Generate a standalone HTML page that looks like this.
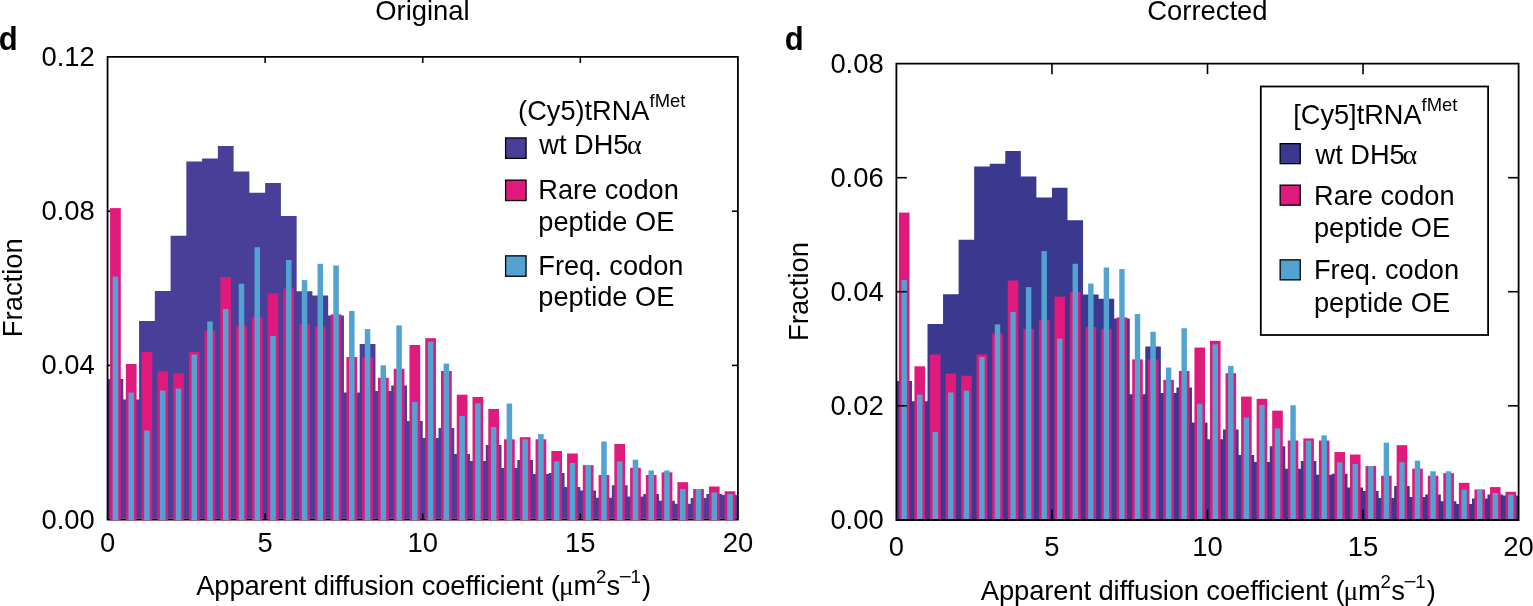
<!DOCTYPE html>
<html><head><meta charset="utf-8"><title>Diffusion coefficient histograms</title>
<style>
html,body{margin:0;padding:0;background:#fff;}
body{width:1533px;height:606px;overflow:hidden;}
svg{display:block;}
svg text{font-family:'Liberation Sans',Arial,Helvetica,sans-serif;fill:#000;}
</style></head><body>
<svg width="1533" height="606" viewBox="0 0 1533 606">
<path d="M107.55 518.8 L107.55 379 L123.31 379 L123.31 399.5 L139.07 399.5 L139.07 321 L154.83 321 L154.83 291 L170.59 291 L170.59 235.7 L186.34 235.7 L186.34 161.4 L202.1 161.4 L202.1 158.6 L217.86 158.6 L217.86 146.1 L233.62 146.1 L233.62 171.4 L249.38 171.4 L249.38 192.8 L265.14 192.8 L265.14 182.9 L280.9 182.9 L280.9 215.9 L296.66 215.9 L296.66 291.3 L312.41 291.3 L312.41 295.5 L328.17 295.5 L328.17 315.6 L343.93 315.6 L343.93 392.4 L359.69 392.4 L359.69 344 L375.45 344 L375.45 391 L391.21 391 L391.21 385.5 L406.97 385.5 L406.97 421 L422.73 421 L422.73 438 L438.48 438 L438.48 428 L454.24 428 L454.24 454 L470 454 L470 461 L485.76 461 L485.76 445 L501.52 445 L501.52 468 L517.28 468 L517.28 460 L533.04 460 L533.04 474 L548.79 474 L548.79 473 L564.55 473 L564.55 487 L580.31 487 L580.31 490.6 L596.07 490.6 L596.07 497.7 L611.83 497.7 L611.83 485.3 L627.59 485.3 L627.59 496.5 L643.35 496.5 L643.35 494 L659.11 494 L659.11 500.8 L674.87 500.8 L674.87 503.7 L690.62 503.7 L690.62 498 L706.38 498 L706.38 494 L722.14 494 L722.14 495 L737.9 495 L737.9 518.8 Z" fill="#493f99"/>
<path d="M107.55 56.95 L737.9 56.95 L737.9 519.6 L107.55 519.6 Z" fill="none" stroke="#000" stroke-width="1.8"/>
<line x1="265.14" y1="519.6" x2="265.14" y2="513.6" stroke="#000" stroke-width="1.6"/>
<line x1="265.14" y1="56.95" x2="265.14" y2="62.95" stroke="#000" stroke-width="1.6"/>
<line x1="422.73" y1="519.6" x2="422.73" y2="513.6" stroke="#000" stroke-width="1.6"/>
<line x1="422.73" y1="56.95" x2="422.73" y2="62.95" stroke="#000" stroke-width="1.6"/>
<line x1="580.31" y1="519.6" x2="580.31" y2="513.6" stroke="#000" stroke-width="1.6"/>
<line x1="580.31" y1="56.95" x2="580.31" y2="62.95" stroke="#000" stroke-width="1.6"/>
<line x1="107.55" y1="211.2" x2="113.55" y2="211.2" stroke="#000" stroke-width="1.6"/>
<line x1="737.9" y1="211.2" x2="731.9" y2="211.2" stroke="#000" stroke-width="1.6"/>
<line x1="107.55" y1="365.4" x2="113.55" y2="365.4" stroke="#000" stroke-width="1.6"/>
<line x1="737.9" y1="365.4" x2="731.9" y2="365.4" stroke="#000" stroke-width="1.6"/>
<rect x="110.07" y="208.1" width="10.72" height="312.3" fill="#e0197c"/>
<rect x="125.83" y="364" width="10.72" height="156.4" fill="#e0197c"/>
<rect x="141.59" y="352" width="10.72" height="168.4" fill="#e0197c"/>
<rect x="157.35" y="371.4" width="10.72" height="149" fill="#e0197c"/>
<rect x="173.11" y="373.5" width="10.72" height="146.9" fill="#e0197c"/>
<rect x="188.87" y="352" width="10.72" height="168.4" fill="#e0197c"/>
<rect x="204.62" y="330.8" width="10.72" height="189.6" fill="#e0197c"/>
<rect x="220.38" y="277" width="10.72" height="243.4" fill="#e0197c"/>
<rect x="236.14" y="326" width="10.72" height="194.4" fill="#e0197c"/>
<rect x="251.9" y="317" width="10.72" height="203.4" fill="#e0197c"/>
<rect x="267.66" y="293.4" width="10.72" height="227" fill="#e0197c"/>
<rect x="283.42" y="288.7" width="10.72" height="231.7" fill="#e0197c"/>
<rect x="299.18" y="324" width="10.72" height="196.4" fill="#e0197c"/>
<rect x="314.94" y="326.4" width="10.72" height="194" fill="#e0197c"/>
<rect x="330.69" y="314.4" width="10.72" height="206" fill="#e0197c"/>
<rect x="346.45" y="357" width="10.72" height="163.4" fill="#e0197c"/>
<rect x="362.21" y="357" width="10.72" height="163.4" fill="#e0197c"/>
<rect x="377.97" y="377.8" width="10.72" height="142.6" fill="#e0197c"/>
<rect x="393.73" y="368.7" width="10.72" height="151.7" fill="#e0197c"/>
<rect x="409.49" y="345" width="10.72" height="175.4" fill="#e0197c"/>
<rect x="425.25" y="338.2" width="10.72" height="182.2" fill="#e0197c"/>
<rect x="441.01" y="371" width="10.72" height="149.4" fill="#e0197c"/>
<rect x="456.76" y="394.7" width="10.72" height="125.7" fill="#e0197c"/>
<rect x="472.52" y="397" width="10.72" height="123.4" fill="#e0197c"/>
<rect x="488.28" y="409" width="10.72" height="111.4" fill="#e0197c"/>
<rect x="504.04" y="439.3" width="10.72" height="81.1" fill="#e0197c"/>
<rect x="519.8" y="437.2" width="10.72" height="83.2" fill="#e0197c"/>
<rect x="535.56" y="439.3" width="10.72" height="81.1" fill="#e0197c"/>
<rect x="551.32" y="451" width="10.72" height="69.4" fill="#e0197c"/>
<rect x="567.08" y="453.5" width="10.72" height="66.9" fill="#e0197c"/>
<rect x="582.83" y="465.2" width="10.72" height="55.2" fill="#e0197c"/>
<rect x="598.59" y="475" width="10.72" height="45.4" fill="#e0197c"/>
<rect x="614.35" y="444" width="10.72" height="76.4" fill="#e0197c"/>
<rect x="630.11" y="467.8" width="10.72" height="52.6" fill="#e0197c"/>
<rect x="645.87" y="475" width="10.72" height="45.4" fill="#e0197c"/>
<rect x="661.63" y="472.4" width="10.72" height="48" fill="#e0197c"/>
<rect x="677.39" y="482.2" width="10.72" height="38.2" fill="#e0197c"/>
<rect x="693.15" y="489" width="10.72" height="31.4" fill="#e0197c"/>
<rect x="708.9" y="486.5" width="10.72" height="33.9" fill="#e0197c"/>
<rect x="724.66" y="491.3" width="10.72" height="29.1" fill="#e0197c"/>
<rect x="112.67" y="276.5" width="5.52" height="243.9" fill="#52a3d1"/>
<rect x="128.43" y="392.7" width="5.52" height="127.7" fill="#52a3d1"/>
<rect x="144.19" y="430.6" width="5.52" height="89.8" fill="#52a3d1"/>
<rect x="159.95" y="390.6" width="5.52" height="129.8" fill="#52a3d1"/>
<rect x="175.71" y="388.7" width="5.52" height="131.7" fill="#52a3d1"/>
<rect x="191.47" y="354.5" width="5.52" height="165.9" fill="#52a3d1"/>
<rect x="207.22" y="321.5" width="5.52" height="198.9" fill="#52a3d1"/>
<rect x="222.98" y="309" width="5.52" height="211.4" fill="#52a3d1"/>
<rect x="238.74" y="283.7" width="5.52" height="236.7" fill="#52a3d1"/>
<rect x="254.5" y="247.2" width="5.52" height="273.2" fill="#52a3d1"/>
<rect x="270.26" y="336" width="5.52" height="184.4" fill="#52a3d1"/>
<rect x="286.02" y="260" width="5.52" height="260.4" fill="#52a3d1"/>
<rect x="301.78" y="280.1" width="5.52" height="240.3" fill="#52a3d1"/>
<rect x="317.54" y="263.8" width="5.52" height="256.6" fill="#52a3d1"/>
<rect x="333.29" y="265.4" width="5.52" height="255" fill="#52a3d1"/>
<rect x="349.05" y="311" width="5.52" height="209.4" fill="#52a3d1"/>
<rect x="364.81" y="329" width="5.52" height="191.4" fill="#52a3d1"/>
<rect x="380.57" y="365.3" width="5.52" height="155.1" fill="#52a3d1"/>
<rect x="396.33" y="325.4" width="5.52" height="195" fill="#52a3d1"/>
<rect x="412.09" y="402" width="5.52" height="118.4" fill="#52a3d1"/>
<rect x="427.85" y="341.7" width="5.52" height="178.7" fill="#52a3d1"/>
<rect x="443.61" y="363.6" width="5.52" height="156.8" fill="#52a3d1"/>
<rect x="459.36" y="416" width="5.52" height="104.4" fill="#52a3d1"/>
<rect x="475.12" y="403.3" width="5.52" height="117.1" fill="#52a3d1"/>
<rect x="490.88" y="427" width="5.52" height="93.4" fill="#52a3d1"/>
<rect x="506.64" y="403.5" width="5.52" height="116.9" fill="#52a3d1"/>
<rect x="522.4" y="439.3" width="5.52" height="81.1" fill="#52a3d1"/>
<rect x="538.16" y="434.1" width="5.52" height="86.3" fill="#52a3d1"/>
<rect x="553.92" y="461.4" width="5.52" height="59" fill="#52a3d1"/>
<rect x="569.68" y="463" width="5.52" height="57.4" fill="#52a3d1"/>
<rect x="585.43" y="465.2" width="5.52" height="55.2" fill="#52a3d1"/>
<rect x="601.19" y="441.5" width="5.52" height="78.9" fill="#52a3d1"/>
<rect x="616.95" y="461.4" width="5.52" height="59" fill="#52a3d1"/>
<rect x="632.71" y="459.7" width="5.52" height="60.7" fill="#52a3d1"/>
<rect x="648.47" y="470.5" width="5.52" height="49.9" fill="#52a3d1"/>
<rect x="664.23" y="470.5" width="5.52" height="49.9" fill="#52a3d1"/>
<rect x="679.99" y="489" width="5.52" height="31.4" fill="#52a3d1"/>
<rect x="695.75" y="489" width="5.52" height="31.4" fill="#52a3d1"/>
<rect x="711.5" y="492.5" width="5.52" height="27.9" fill="#52a3d1"/>
<rect x="727.26" y="494.1" width="5.52" height="26.3" fill="#52a3d1"/>
<path d="M896.4 519.2 L896.4 381.07 L911.95 381.07 L911.95 401.29 L927.51 401.29 L927.51 323.89 L943.06 323.89 L943.06 294.31 L958.62 294.31 L958.62 239.79 L974.17 239.79 L974.17 166.53 L989.73 166.53 L989.73 163.77 L1005.28 163.77 L1005.28 150.94 L1020.84 150.94 L1020.84 176.39 L1036.39 176.39 L1036.39 197.49 L1051.95 197.49 L1051.95 187.73 L1067.5 187.73 L1067.5 220.26 L1083.06 220.26 L1083.06 294.61 L1098.62 294.61 L1098.62 298.75 L1114.17 298.75 L1114.17 318.56 L1129.72 318.56 L1129.72 394.29 L1145.28 394.29 L1145.28 346.57 L1160.84 346.57 L1160.84 392.91 L1176.39 392.91 L1176.39 387.48 L1191.94 387.48 L1191.94 422.48 L1207.5 422.48 L1207.5 439.25 L1223.05 439.25 L1223.05 429.39 L1238.61 429.39 L1238.61 455.02 L1254.16 455.02 L1254.16 461.92 L1269.72 461.92 L1269.72 446.15 L1285.27 446.15 L1285.27 468.82 L1300.83 468.82 L1300.83 460.94 L1316.38 460.94 L1316.38 474.74 L1331.94 474.74 L1331.94 473.75 L1347.49 473.75 L1347.49 487.56 L1363.05 487.56 L1363.05 491.11 L1378.61 491.11 L1378.61 498.11 L1394.16 498.11 L1394.16 485.88 L1409.71 485.88 L1409.71 496.92 L1425.27 496.92 L1425.27 494.46 L1440.82 494.46 L1440.82 501.16 L1456.38 501.16 L1456.38 504.02 L1471.93 504.02 L1471.93 498.4 L1487.49 498.4 L1487.49 494.46 L1503.04 494.46 L1503.04 495.45 L1518.6 495.45 L1518.6 519.2 Z" fill="#3b388f"/>
<rect x="898.89" y="212.57" width="10.58" height="308.23" fill="#e0197c"/>
<rect x="914.44" y="366.28" width="10.58" height="154.52" fill="#e0197c"/>
<rect x="930" y="354.45" width="10.58" height="166.35" fill="#e0197c"/>
<rect x="945.55" y="373.58" width="10.58" height="147.22" fill="#e0197c"/>
<rect x="961.11" y="375.65" width="10.58" height="145.15" fill="#e0197c"/>
<rect x="976.66" y="354.45" width="10.58" height="166.35" fill="#e0197c"/>
<rect x="992.22" y="333.55" width="10.58" height="187.25" fill="#e0197c"/>
<rect x="1007.77" y="280.51" width="10.58" height="240.29" fill="#e0197c"/>
<rect x="1023.33" y="328.82" width="10.58" height="191.98" fill="#e0197c"/>
<rect x="1038.88" y="319.94" width="10.58" height="200.86" fill="#e0197c"/>
<rect x="1054.44" y="296.68" width="10.58" height="224.12" fill="#e0197c"/>
<rect x="1069.99" y="292.04" width="10.58" height="228.76" fill="#e0197c"/>
<rect x="1085.55" y="326.85" width="10.58" height="193.95" fill="#e0197c"/>
<rect x="1101.1" y="329.21" width="10.58" height="191.59" fill="#e0197c"/>
<rect x="1116.66" y="317.38" width="10.58" height="203.42" fill="#e0197c"/>
<rect x="1132.21" y="359.38" width="10.58" height="161.42" fill="#e0197c"/>
<rect x="1147.77" y="359.38" width="10.58" height="161.42" fill="#e0197c"/>
<rect x="1163.32" y="379.89" width="10.58" height="140.91" fill="#e0197c"/>
<rect x="1178.88" y="370.92" width="10.58" height="149.88" fill="#e0197c"/>
<rect x="1194.43" y="347.55" width="10.58" height="173.25" fill="#e0197c"/>
<rect x="1209.99" y="340.85" width="10.58" height="179.95" fill="#e0197c"/>
<rect x="1225.54" y="373.19" width="10.58" height="147.61" fill="#e0197c"/>
<rect x="1241.1" y="396.55" width="10.58" height="124.25" fill="#e0197c"/>
<rect x="1256.65" y="398.82" width="10.58" height="121.98" fill="#e0197c"/>
<rect x="1272.21" y="410.65" width="10.58" height="110.15" fill="#e0197c"/>
<rect x="1287.76" y="440.53" width="10.58" height="80.27" fill="#e0197c"/>
<rect x="1303.32" y="438.46" width="10.58" height="82.34" fill="#e0197c"/>
<rect x="1318.87" y="440.53" width="10.58" height="80.27" fill="#e0197c"/>
<rect x="1334.43" y="452.06" width="10.58" height="68.74" fill="#e0197c"/>
<rect x="1349.98" y="454.53" width="10.58" height="66.27" fill="#e0197c"/>
<rect x="1365.54" y="466.06" width="10.58" height="54.74" fill="#e0197c"/>
<rect x="1381.09" y="475.73" width="10.58" height="45.07" fill="#e0197c"/>
<rect x="1396.65" y="445.16" width="10.58" height="75.64" fill="#e0197c"/>
<rect x="1412.2" y="468.63" width="10.58" height="52.17" fill="#e0197c"/>
<rect x="1427.76" y="475.73" width="10.58" height="45.07" fill="#e0197c"/>
<rect x="1443.31" y="473.16" width="10.58" height="47.64" fill="#e0197c"/>
<rect x="1458.87" y="482.83" width="10.58" height="37.97" fill="#e0197c"/>
<rect x="1474.42" y="489.53" width="10.58" height="31.27" fill="#e0197c"/>
<rect x="1489.98" y="487.06" width="10.58" height="33.74" fill="#e0197c"/>
<rect x="1505.53" y="491.8" width="10.58" height="29" fill="#e0197c"/>
<rect x="901.46" y="280.01" width="5.44" height="240.79" fill="#52a3d1"/>
<rect x="917.01" y="394.58" width="5.44" height="126.22" fill="#52a3d1"/>
<rect x="932.57" y="431.95" width="5.44" height="88.85" fill="#52a3d1"/>
<rect x="948.12" y="392.51" width="5.44" height="128.29" fill="#52a3d1"/>
<rect x="963.68" y="390.64" width="5.44" height="130.16" fill="#52a3d1"/>
<rect x="979.23" y="356.92" width="5.44" height="163.88" fill="#52a3d1"/>
<rect x="994.79" y="324.38" width="5.44" height="196.42" fill="#52a3d1"/>
<rect x="1010.34" y="312.06" width="5.44" height="208.74" fill="#52a3d1"/>
<rect x="1025.9" y="287.11" width="5.44" height="233.69" fill="#52a3d1"/>
<rect x="1041.45" y="251.12" width="5.44" height="269.68" fill="#52a3d1"/>
<rect x="1057.01" y="338.68" width="5.44" height="182.12" fill="#52a3d1"/>
<rect x="1072.56" y="263.74" width="5.44" height="257.06" fill="#52a3d1"/>
<rect x="1088.12" y="283.56" width="5.44" height="237.24" fill="#52a3d1"/>
<rect x="1103.67" y="267.49" width="5.44" height="253.31" fill="#52a3d1"/>
<rect x="1119.23" y="269.07" width="5.44" height="251.73" fill="#52a3d1"/>
<rect x="1134.78" y="314.03" width="5.44" height="206.77" fill="#52a3d1"/>
<rect x="1150.34" y="331.78" width="5.44" height="189.02" fill="#52a3d1"/>
<rect x="1165.89" y="367.57" width="5.44" height="153.23" fill="#52a3d1"/>
<rect x="1181.45" y="328.23" width="5.44" height="192.57" fill="#52a3d1"/>
<rect x="1197" y="403.75" width="5.44" height="117.05" fill="#52a3d1"/>
<rect x="1212.56" y="344.3" width="5.44" height="176.5" fill="#52a3d1"/>
<rect x="1228.11" y="365.89" width="5.44" height="154.91" fill="#52a3d1"/>
<rect x="1243.67" y="417.55" width="5.44" height="103.25" fill="#52a3d1"/>
<rect x="1259.22" y="405.03" width="5.44" height="115.77" fill="#52a3d1"/>
<rect x="1274.78" y="428.4" width="5.44" height="92.4" fill="#52a3d1"/>
<rect x="1290.33" y="405.23" width="5.44" height="115.57" fill="#52a3d1"/>
<rect x="1305.89" y="440.53" width="5.44" height="80.27" fill="#52a3d1"/>
<rect x="1321.44" y="435.4" width="5.44" height="85.4" fill="#52a3d1"/>
<rect x="1337" y="462.32" width="5.44" height="58.48" fill="#52a3d1"/>
<rect x="1352.55" y="463.89" width="5.44" height="56.91" fill="#52a3d1"/>
<rect x="1368.11" y="466.06" width="5.44" height="54.74" fill="#52a3d1"/>
<rect x="1383.66" y="442.7" width="5.44" height="78.1" fill="#52a3d1"/>
<rect x="1399.22" y="462.32" width="5.44" height="58.48" fill="#52a3d1"/>
<rect x="1414.77" y="460.64" width="5.44" height="60.16" fill="#52a3d1"/>
<rect x="1430.33" y="471.29" width="5.44" height="49.51" fill="#52a3d1"/>
<rect x="1445.88" y="471.29" width="5.44" height="49.51" fill="#52a3d1"/>
<rect x="1461.44" y="489.53" width="5.44" height="31.27" fill="#52a3d1"/>
<rect x="1476.99" y="489.53" width="5.44" height="31.27" fill="#52a3d1"/>
<rect x="1492.55" y="492.98" width="5.44" height="27.82" fill="#52a3d1"/>
<rect x="1508.1" y="494.56" width="5.44" height="26.24" fill="#52a3d1"/>
<path d="M896.4 63.65 L1518.6 63.65 L1518.6 520 L896.4 520 Z" fill="none" stroke="#000" stroke-width="1.8"/>
<line x1="1051.95" y1="520" x2="1051.95" y2="509.5" stroke="#000" stroke-width="1.6"/>
<line x1="1051.95" y1="63.65" x2="1051.95" y2="74.15" stroke="#000" stroke-width="1.6"/>
<line x1="1207.5" y1="520" x2="1207.5" y2="509.5" stroke="#000" stroke-width="1.6"/>
<line x1="1207.5" y1="63.65" x2="1207.5" y2="74.15" stroke="#000" stroke-width="1.6"/>
<line x1="1363.05" y1="520" x2="1363.05" y2="509.5" stroke="#000" stroke-width="1.6"/>
<line x1="1363.05" y1="63.65" x2="1363.05" y2="74.15" stroke="#000" stroke-width="1.6"/>
<line x1="896.4" y1="177.7" x2="906.9" y2="177.7" stroke="#000" stroke-width="1.6"/>
<line x1="1518.6" y1="177.7" x2="1508.1" y2="177.7" stroke="#000" stroke-width="1.6"/>
<line x1="896.4" y1="291.7" x2="906.9" y2="291.7" stroke="#000" stroke-width="1.6"/>
<line x1="1518.6" y1="291.7" x2="1508.1" y2="291.7" stroke="#000" stroke-width="1.6"/>
<line x1="896.4" y1="405.8" x2="906.9" y2="405.8" stroke="#000" stroke-width="1.6"/>
<line x1="1518.6" y1="405.8" x2="1508.1" y2="405.8" stroke="#000" stroke-width="1.6"/>
<text transform="translate(-1.3 49.7) scale(0.94 1)" style="font-size:33px;font-weight:bold">d</text>
<text x="422.4" y="20.2" text-anchor="middle" style="font-size:27.4px">Original</text>
<text x="94.8" y="65.85" text-anchor="end" style="font-size:27.4px">0.12</text>
<text x="94.8" y="220.1" text-anchor="end" style="font-size:27.4px">0.08</text>
<text x="94.8" y="374.3" text-anchor="end" style="font-size:27.4px">0.04</text>
<text x="94.8" y="528.5" text-anchor="end" style="font-size:27.4px">0.00</text>
<text x="107.55" y="552" text-anchor="middle" style="font-size:27.4px">0</text>
<text x="265.14" y="552" text-anchor="middle" style="font-size:27.4px">5</text>
<text x="422.73" y="552" text-anchor="middle" style="font-size:27.4px">10</text>
<text x="580.31" y="552" text-anchor="middle" style="font-size:27.4px">15</text>
<text x="737.9" y="552" text-anchor="middle" style="font-size:27.4px">20</text>
<text transform="translate(22.3 287.7) rotate(-90)" text-anchor="middle" style="font-size:27.4px">Fraction</text>
<text x="196.15" y="594.8" textLength="347.1" lengthAdjust="spacing" style="font-size:27.4px">Apparent diffusion coefficient</text>
<text x="550.8" y="594.8" style="font-size:27.4px">(</text>
<text x="558.9" y="594.8" style="font-size:27.4px;font-family:'Liberation Serif',serif">μ</text>
<text x="573.4" y="594.8" style="font-size:27.4px">m</text>
<text x="595.9" y="582.7" style="font-size:18.6px">2</text>
<text x="606.5" y="594.8" style="font-size:27.4px">s</text>
<text x="0" y="582.7" transform="translate(619.8 0) scale(1.2 1) translate(-0.92 0)" style="font-size:18.6px">−</text>
<text x="630.6" y="582.7" style="font-size:18.6px">1</text>
<text x="642" y="594.8" style="font-size:27.4px">)</text>
<text x="518.1" y="119.5" style="font-size:27.2px">(Cy5)tRNA<tspan dy="-12.9" style="font-size:18.4px">fMet</tspan></text>
<rect x="505.6" y="137.95" width="20.45" height="20.4" fill="#493f99" stroke="#000" stroke-width="1.3"/>
<rect x="505.6" y="180.15" width="20.45" height="20.4" fill="#e0197c" stroke="#000" stroke-width="1.3"/>
<rect x="505.6" y="255.85" width="20.45" height="20.4" fill="#52a3d1" stroke="#000" stroke-width="1.3"/>
<text x="539.3" y="153.7" style="font-size:27.2px">wt DH5</text>
<text x="627.1" y="153.7" style="font-size:28px;font-family:'Liberation Serif',serif">α</text>
<text x="538.3" y="198.9" style="font-size:27.2px">Rare codon</text>
<text x="538.3" y="230.6" style="font-size:27.2px">peptide OE</text>
<text x="538.3" y="274.8" style="font-size:27.2px">Freq. codon</text>
<text x="538.3" y="306.3" style="font-size:27.2px">peptide OE</text>
<text transform="translate(784.8 49.7) scale(0.94 1)" style="font-size:33px;font-weight:bold">d</text>
<text x="1207.4" y="20.2" text-anchor="middle" style="font-size:27.4px">Corrected</text>
<text x="883.7" y="72.55" text-anchor="end" style="font-size:27.4px">0.08</text>
<text x="883.7" y="186.6" text-anchor="end" style="font-size:27.4px">0.06</text>
<text x="883.7" y="300.6" text-anchor="end" style="font-size:27.4px">0.04</text>
<text x="883.7" y="414.7" text-anchor="end" style="font-size:27.4px">0.02</text>
<text x="883.7" y="528.9" text-anchor="end" style="font-size:27.4px">0.00</text>
<text x="896.4" y="556" text-anchor="middle" style="font-size:27.4px">0</text>
<text x="1051.95" y="556" text-anchor="middle" style="font-size:27.4px">5</text>
<text x="1207.5" y="556" text-anchor="middle" style="font-size:27.4px">10</text>
<text x="1363.05" y="556" text-anchor="middle" style="font-size:27.4px">15</text>
<text x="1518.6" y="556" text-anchor="middle" style="font-size:27.4px">20</text>
<text transform="translate(808.3 291.5) rotate(-90)" text-anchor="middle" style="font-size:27.4px">Fraction</text>
<text x="980.85" y="599.8" textLength="347.1" lengthAdjust="spacing" style="font-size:27.4px">Apparent diffusion coefficient</text>
<text x="1335.5" y="599.8" style="font-size:27.4px">(</text>
<text x="1343.6" y="599.8" style="font-size:27.4px;font-family:'Liberation Serif',serif">μ</text>
<text x="1358.1" y="599.8" style="font-size:27.4px">m</text>
<text x="1380.6" y="587.7" style="font-size:18.6px">2</text>
<text x="1391.2" y="599.8" style="font-size:27.4px">s</text>
<text x="0" y="587.7" transform="translate(1404.5 0) scale(1.2 1) translate(-0.92 0)" style="font-size:18.6px">−</text>
<text x="1415.3" y="587.7" style="font-size:18.6px">1</text>
<text x="1426.7" y="599.8" style="font-size:27.4px">)</text>
<rect x="1260.8" y="86.5" width="227.3" height="248.5" fill="#fff" stroke="#000" stroke-width="1.8"/>
<text x="1293.2" y="123.9" style="font-size:27.2px">[Cy5]tRNA<tspan dy="-12.9" style="font-size:18.4px">fMet</tspan></text>
<rect x="1280.15" y="143.65" width="20.1" height="20" fill="#3b388f" stroke="#000" stroke-width="1.3"/>
<rect x="1280.15" y="185.15" width="20.1" height="20" fill="#e0197c" stroke="#000" stroke-width="1.3"/>
<rect x="1280.15" y="259.85" width="20.1" height="20" fill="#52a3d1" stroke="#000" stroke-width="1.3"/>
<text x="1315.6" y="164" style="font-size:27.2px">wt DH5</text>
<text x="1402.6" y="164" style="font-size:28px;font-family:'Liberation Serif',serif">α</text>
<text x="1314" y="205" style="font-size:27.2px">Rare codon</text>
<text x="1314" y="236.8" style="font-size:27.2px">peptide OE</text>
<text x="1314" y="279" style="font-size:27.2px">Freq. codon</text>
<text x="1314" y="311.6" style="font-size:27.2px">peptide OE</text>
</svg>
</body></html>
